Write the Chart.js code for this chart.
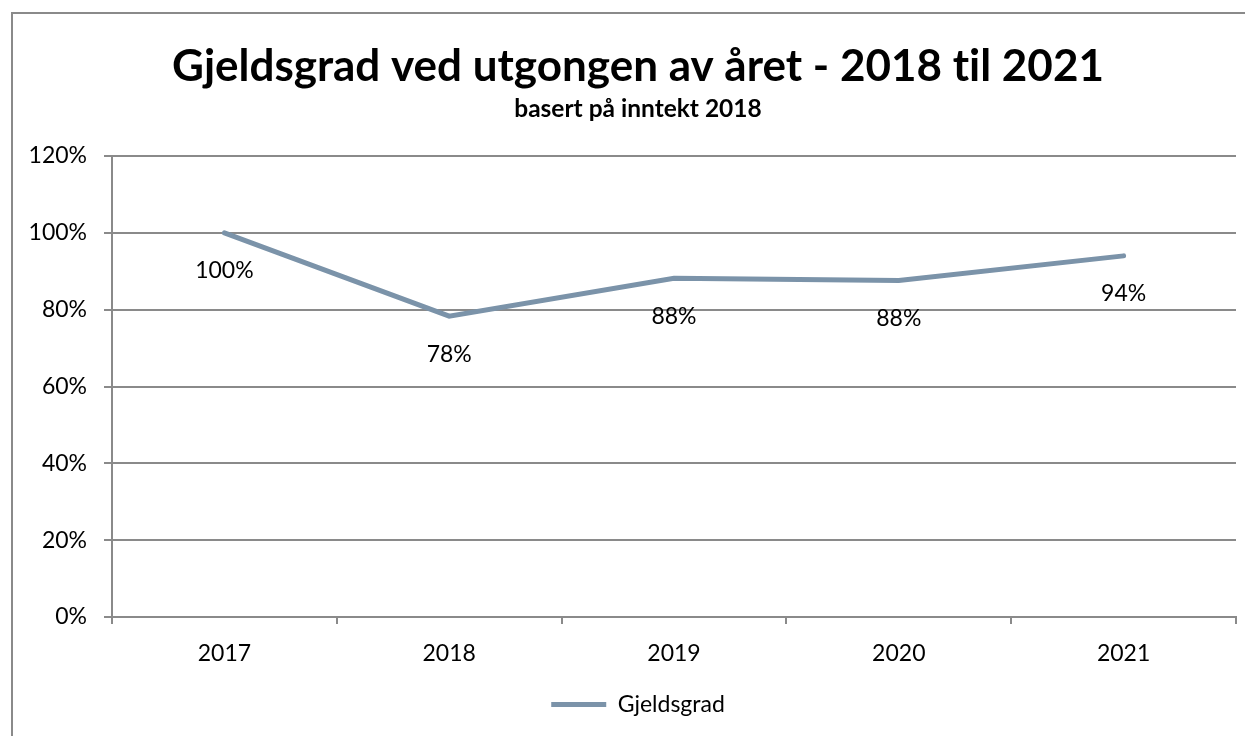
<!DOCTYPE html>
<html>
<head>
<meta charset="utf-8">
<script src="https://cdn.jsdelivr.net/npm/chart.js@4.4.1/dist/chart.umd.min.js"></script>
<style>
html,body{margin:0;padding:0;overflow:hidden;background:#fff;width:1245px;height:736px;}
#frame{position:absolute;left:11px;top:12px;width:1260px;height:760px;border:2px solid #8a8a8a;box-sizing:border-box;}
#c{position:absolute;left:0;top:0;}
</style>
</head>
<body>
<div id="frame"></div>
<canvas id="c" width="1265" height="736"></canvas>
<script>
const categories = ['2017','2018','2019','2020','2021'];
const gjeldsgrad = [100.0, 78.3, 88.2, 87.6, 94.0];
const seriesName = 'Gjeldsgrad';
const titleText = 'Gjeldsgrad ved utgongen av året - 2018 t\u200Cil 2021';
const subtitleText = 'basert på inntekt 2018';

const FONT = 'Lato, "Open Sans", sans-serif';
const GRID = '#8a8a8a';
const LINE = '#7b93a9';

const labelPlugin = {
  id: 'pointLabels',
  afterLayout(chart) {
    // let the y tick labels extend into the left padding without being clipped
    chart.scales.y.left = 0;
  },
  afterDatasetsDraw(chart) {
    const ctx = chart.ctx;
    const meta = chart.getDatasetMeta(0);
    ctx.save();
    ctx.font = '23px ' + FONT;
    ctx.fillStyle = '#000';
    ctx.textAlign = 'center';
    ctx.textBaseline = 'middle';
    meta.data.forEach((pt, i) => {
      const v = chart.data.datasets[0].data[i];
      ctx.fillText(Math.round(v) + '%', pt.x, pt.y + 38);
    });
    ctx.restore();
  }
};

new Chart(document.getElementById('c'), {
  type: 'line',
  data: {
    labels: categories,
    datasets: [{
      label: seriesName,
      data: gjeldsgrad,
      borderColor: LINE,
      backgroundColor: LINE,
      borderWidth: 5,
      borderCapStyle: 'round',
      pointRadius: 0,
      pointHoverRadius: 0,
      tension: 0,
      pointStyle: 'line'
    }]
  },
  options: {
    responsive: false,
    animation: false,
    devicePixelRatio: 1,
    layout: { padding: { left: 40, right: 29, top: 0, bottom: 10 } },
    plugins: {
      tooltip: { enabled: false },
      title: {
        display: true,
        text: titleText,
        color: '#000',
        font: { family: FONT, size: 44, weight: 'bold' },
        padding: { top: 40, bottom: 0 }
      },
      subtitle: {
        display: true,
        text: subtitleText,
        color: '#000',
        font: { family: FONT, size: 24.5, weight: 'bold' },
        padding: { top: 2, bottom: 31.8 }
      },
      legend: {
        position: 'bottom',
        labels: {
          color: '#000',
          font: { family: FONT, size: 23 },
          usePointStyle: true,
          pointStyle: 'line',
          pointStyleWidth: 55,
          padding: 10
        }
      }
    },
    scales: {
      x: {
        offset: true,
        grid: { display: true, offset: true, drawOnChartArea: false, drawTicks: true, tickLength: 7, color: GRID, lineWidth: 2 },
        border: { display: true, color: GRID, width: 2 },
        ticks: { color: '#000', font: { family: FONT, size: 23 }, padding: 16 },
        afterFit(scale) { scale.height = 66; }
      },
      y: {
        min: 0, max: 120,
        grid: { color: GRID, lineWidth: 2, tickLength: 8 },
        border: { display: true, color: GRID, width: 2 },
        ticks: { stepSize: 20, color: '#000', font: { family: FONT, size: 23 }, padding: 17,
                 callback: v => v + '%' },
        afterFit(scale) { scale.width = 72; }
      }
    }
  },
  plugins: [labelPlugin]
});
</script>
</body>
</html>
